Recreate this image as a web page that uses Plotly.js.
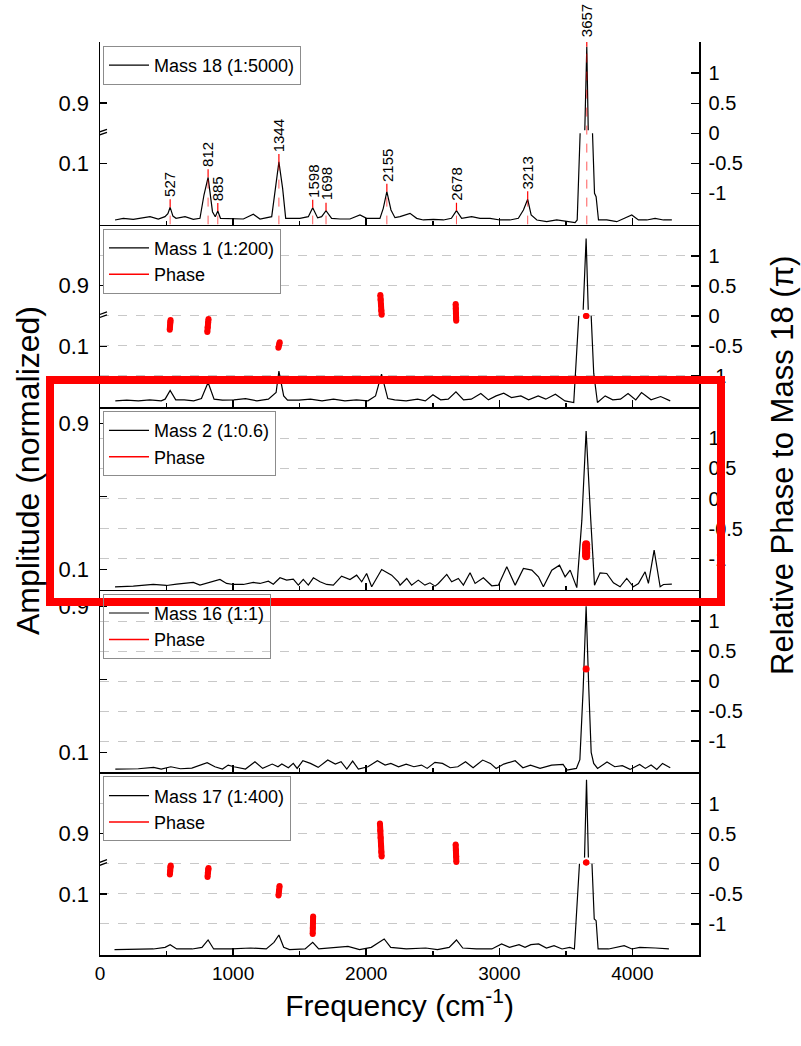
<!DOCTYPE html>
<html><head><meta charset="utf-8">
<script src="https://cdn.plot.ly/plotly-3.0.1.min.js"></script>
<style>html,body{margin:0;padding:0;background:#fff}#chart{width:801px;height:1046px}</style>
</head><body><div id="chart"></div>
<script>
// ---------------- data ----------------
// Panel 1: Mass 18 (1:5000) normalized amplitude
const freq18 = [113,175,250,313,376,438,488,510,527,548,571,639,701,751,781,812,845,866,885,905,1002,1077,1152,1202,1290,1320,1344,1372,1395,1502,1565,1598,1635,1665,1698,1740,1803,1878,1953,2003,2103,2128,2155,2186,2216,2254,2329,2379,2429,2505,2580,2640,2678,2717,2792,2855,2930,3005,3080,3143,3181,3213,3239,3282,3356,3431,3506,3569,3585,3607,3624,3642,3657,3668,3684,3700,3715,3727,3745,3807,3882,3995,4045,4108,4170,4233,4296];
const amp18 = [0.0076,0.0103,0.0087,0.0114,0.013,0.0092,0.013,0.018,0.0284,0.014,0.0103,0.013,0.0087,0.0103,0.0486,0.0777,0.0212,0.013,0.0223,0.0103,0.0092,0.0092,0.0169,0.0092,0.013,0.065,0.103,0.0596,0.0103,0.0103,0.013,0.0278,0.011,0.013,0.0229,0.0103,0.0092,0.0092,0.0158,0.0103,0.0103,0.0267,0.0541,0.024,0.0114,0.013,0.0185,0.0103,0.0076,0.0087,0.0076,0.0103,0.0229,0.0103,0.013,0.0103,0.0103,0.0076,0.0076,0.0103,0.024,0.0415,0.0158,0.0076,0.0048,0.0076,0.0048,0.0032,0.0076,0.15,0.5,0.855,0.992,0.855,0.5,0.15,0.0514,0.0459,0.0076,0.0076,0.0048,0.0158,0.0076,0.0076,0.0103,0.0076,0.0076];
const peakLabels = ['527','812','885','1344','1598','1698','2155','2678','3213','3657'];
const peakFreqs = [527,812,885,1344,1598,1698,2155,2678,3213,3657];

// Panel 2: Mass 1 (1:200)
const freq1 = [115,201,288,374,460,489,527,569,633,704,762,812,857,920,1006,1093,1179,1265,1323,1344,1380,1409,1495,1581,1668,1754,1840,1926,2013,2070,2115,2162,2214,2300,2386,2444,2501,2559,2616,2674,2731,2789,2861,2918,2976,3033,3091,3162,3220,3292,3349,3421,3493,3559,3597,3615,3630,3652,3668,3680,3690,3709,3737,3795,3852,3910,3967,4025,4068,4140,4212,4284];
const amp1 = [0.0104,0.0115,0.0104,0.0121,0.0104,0.0132,0.0274,0.0121,0.0121,0.0104,0.0142,0.0406,0.0132,0.0115,0.0121,0.0142,0.0104,0.0132,0.0241,0.0592,0.0186,0.0115,0.0115,0.0132,0.0104,0.0132,0.0104,0.0121,0.0104,0.0186,0.0543,0.0142,0.0121,0.0104,0.0132,0.0104,0.0203,0.0121,0.0132,0.0252,0.0121,0.0132,0.0225,0.0121,0.0186,0.023,0.0159,0.0186,0.0121,0.0186,0.0132,0.0214,0.0104,0.0077,0.15,0.5,0.86,0.977,0.86,0.5,0.15,0.0559,0.0077,0.0186,0.0121,0.0132,0.0225,0.0121,0.0241,0.0121,0.0175,0.0104];
const phaseFreq1 = [524,526,528,530,null,806,809,812,815,null,1340,1346,1350,null,2106,2108,2111,2113,2116,null,2672,2673,2674,2675,2676,null,3650,3655];
const phase1 = [-0.23,-0.17,-0.11,-0.07,null,-0.27,-0.19,-0.11,-0.05,null,-0.53,-0.48,-0.44,null,0.35,0.27,0.18,0.09,0.02,null,0.20,0.12,0.04,-0.03,-0.08,null,0,0];

// Panel 3: Mass 2 (1:0.6)
const freq2 = [113,250,400,500,576,701,751,851,901,951,1001,1077,1152,1202,1265,1302,1352,1402,1452,1490,1527,1565,1603,1653,1703,1753,1815,1878,1928,1966,2003,2041,2116,2191,2241,2254,2304,2341,2391,2441,2479,2517,2542,2605,2642,2692,2730,2780,2818,2880,2943,2993,3056,3119,3181,3244,3294,3331,3394,3452,3494,3532,3582,3620,3652,3687,3715,3757,3807,3857,3907,3957,4007,4045,4095,4120,4163,4208,4233,4296];
const amp2 = [0.0064,0.0101,0.0192,0.0137,0.021,0.0302,0.0156,0.0338,0.0466,0.0247,0.0192,0.0192,0.0302,0.0247,0.0375,0.021,0.0557,0.0429,0.0484,0.0156,0.0466,0.0156,0.0557,0.0338,0.0192,0.0156,0.0648,0.0466,0.0703,0.0338,0.0794,0.0064,0.1013,0.0703,0.0338,0.0156,0.052,0.0156,0.0429,0.0156,0.0283,0.0101,0.0247,0.074,0.0338,0.052,0.0156,0.0831,0.0247,0.0557,0.0119,0.0156,0.1159,0.0156,0.1068,0.0977,0.0612,0.0064,0.0977,0.125,0.0612,0.0977,0.002,0.3714,0.86,0.3714,0.0156,0.0831,0.0794,0.0283,0.0064,0.052,0.0064,0.0247,0.0886,0.0247,0.2072,0.0064,0.0192,0.021];
const phaseFreq2 = [3652,3652,3652,3652];
const phase2 = [-0.76,-0.83,-0.90,-0.96];

// Panel 4: Mass 16 (1:1)
const freq16 = [115,288,403,460,532,604,690,805,863,920,963,1006,1093,1164,1222,1294,1337,1366,1415,1452,1481,1524,1581,1639,1711,1768,1811,1854,1898,1941,2013,2084,2142,2185,2243,2300,2358,2415,2458,2516,2573,2631,2688,2746,2803,2875,2933,2976,3033,3119,3177,3234,3306,3393,3479,3508,3579,3605,3630,3652,3672,3690,3709,3738,3809,3867,3924,3982,4054,4097,4140,4183,4226,4284];
const amp16 = [0.0083,0.0101,0.0174,0.0083,0.021,0.0101,0.0137,0.0429,0.021,0.0083,0.0302,0.021,0.0083,0.0484,0.0119,0.0356,0.021,0.0356,0.0156,0.0393,0.0119,0.0539,0.0393,0.0174,0.0575,0.0356,0.0484,0.0083,0.052,0.0083,0.021,0.0539,0.0302,0.0393,0.021,0.0356,0.021,0.0302,0.0119,0.0448,0.0393,0.0156,0.021,0.0484,0.0156,0.0575,0.0393,0.0119,0.0356,0.0539,0.0156,0.0302,0.0119,0.0302,0.0338,0.0028,0.0119,0.06,0.45,0.9,0.45,0.1,0.0393,0.0119,0.0466,0.021,0.0265,0.0064,0.0338,0.0119,0.0302,0.0064,0.0393,0.0156];
const phaseFreq16 = [3652];
const phase16 = [0.2];

// Panel 5: Mass 17 (1:400)
const freq17 = [109,256,401,489,527,576,693,766,812,854,986,1132,1249,1307,1344,1380,1424,1541,1598,1643,1746,1863,1950,2038,2097,2135,2184,2301,2447,2535,2623,2678,2725,2827,2944,3017,3076,3148,3193,3237,3295,3354,3411,3471,3529,3564,3602,3622,3640,3655,3669,3683,3696,3713,3727,3742,3821,3938,3996,4055,4172,4274];
const amp17 = [0.0088,0.0088,0.0099,0.0126,0.017,0.0099,0.0099,0.0126,0.0247,0.0099,0.0099,0.0115,0.0099,0.0208,0.0329,0.0126,0.0088,0.0099,0.0208,0.0099,0.0115,0.0142,0.0088,0.0126,0.0208,0.0263,0.0126,0.0099,0.0115,0.0088,0.0126,0.0247,0.0115,0.0099,0.0099,0.0181,0.0126,0.017,0.0126,0.017,0.0181,0.0115,0.0153,0.0099,0.0126,0.0099,0.15,0.5,0.86,0.988,0.86,0.5,0.15,0.0592,0.0564,0.0099,0.0099,0.0153,0.0099,0.0126,0.0115,0.0099];
const phaseFreq17 = [525,527,529,531,null,808,810,813,815,null,1341,1345,1349,null,1598,1599,1600,1601,null,2103,2106,2108,2111,2113,2116,null,2672,2674,2676,2677,null,3650,3655];
const phase17 = [-0.18,-0.12,-0.06,-0.03,null,-0.22,-0.15,-0.10,-0.07,null,-0.53,-0.45,-0.37,null,-1.17,-1.07,-0.97,-0.88,null,0.67,0.55,0.43,0.31,0.20,0.12,null,0.32,0.22,0.12,0.03,null,0.02,0.02];

const legendNames = ['Mass 18 (1:5000)','Mass 1 (1:200)','Mass 2 (1:0.6)','Mass 16 (1:1)','Mass 17 (1:400)'];
const phaseTicks = [-1,-0.5,0,0.5,1];
const phaseTickText = ['-1','-0.5','0','0.5','1'];

// ---------------- helpers ----------------
const LO = 0.15, HI = 0.85;           // scale break of the broken amplitude axes
function brk(a){ if(a===null) return null; if(a<=LO) return a; if(a>=HI) return a-(HI-LO); return null; }
const FONT = 'Liberation Sans, Arial, sans-serif';

const panels = [
  {f:freq18,a:amp18,broken:true,pf:null,pp:null,bw:6},
  {f:freq1,a:amp1,broken:true,pf:phaseFreq1,pp:phase1,bw:6},
  {f:freq2,a:amp2,broken:false,pf:phaseFreq2,pp:phase2,bw:8},
  {f:freq16,a:amp16,broken:false,pf:phaseFreq16,pp:phase16,bw:7},
  {f:freq17,a:amp17,broken:true,pf:phaseFreq17,pp:phase17,bw:6}
];

const data = [];
const layout = {
  width:801, height:1046,
  margin:{l:100,r:102,t:42,b:91},
  paper_bgcolor:'#fff', plot_bgcolor:'#fff',
  font:{family:FONT,color:'#000'},
  showlegend:true,
  annotations:[], shapes:[]
};

panels.forEach((p,k)=>{
  const i = k+1;
  const xid = i===1?'x':'x'+i;
  const yA = 2*i-1, yP = 2*i;
  const yAid = yA===1?'y':'y'+yA, yPid = 'y'+yP;
  const xkey = i===1?'xaxis':'xaxis'+i;
  const yAkey = yA===1?'yaxis':'yaxis'+yA, yPkey = 'yaxis'+yP;
  const lkey = i===1?'legend':'legend'+i;
  const dom = [1-0.2*i, 1-0.2*(i-1)];

  layout[xkey] = {
    domain:[0,1], anchor:yAid, range:[0,4500], tick0:0, dtick:1000,
    showline:true, linecolor:'#000', linewidth:1.5, mirror:false,
    ticks:'inside', ticklen:7, tickwidth:1.5, tickcolor:'#000',
    minor:{dtick:500, ticks:'inside', ticklen:4, tickwidth:1.5, tickcolor:'#000'},
    showgrid:false, zeroline:false, showticklabels:i===5,
    tickfont:{size:19,family:FONT,color:'#000'}, ticklabelstandoff:1
  };
  if(i===5){ layout[xkey].title = {text:'Frequency (cm<sup>-1</sup>)', font:{size:30,family:FONT,color:'#000'}, standoff:0}; }

  layout[yAkey] = {
    domain:dom, anchor:xid,
    range: p.broken ? [0,0.30] : [-0.01,0.99],
    tickmode:'array',
    tickvals: p.broken ? [0.1, 0.9-(HI-LO)] : [0.1,0.9],
    ticktext: ['0.1','0.9'],
    showline:true, linecolor:'#000', linewidth:1.5,
    ticks:'inside', ticklen:7, tickwidth:1.5, tickcolor:'#000',
    showgrid:false, zeroline:false,
    tickfont:{size:22,family:FONT,color:'#000'}, ticklabelstandoff:5
  };
  if(!p.broken){
    layout[yAkey].minor = {tickmode:'array', tickvals:[0.5], ticks:'inside', ticklen:7, tickwidth:1.5, tickcolor:'#000', showgrid:false};
  }
  layout[yPkey] = {
    domain:dom, anchor:xid, overlaying:yAid, side:'right',
    range:[-1.52,1.52], tickmode:'array', tickvals:phaseTicks, ticktext:phaseTickText,
    showline:true, linecolor:'#000', linewidth:1.5,
    ticks:'inside', ticklen:8, tickwidth:1.5, tickcolor:'#000',
    showgrid:i>1, gridcolor:'#c8c8c8', griddash:'dash', gridwidth:1,
    zeroline:false, tickfont:{size:20,family:FONT,color:'#000'}, ticklabelstandoff:4
  };
  layout[lkey] = {
    x:0.005, y:dom[1]-4/913, xanchor:'left', yanchor:'top', xref:'paper', yref:'paper',
    bgcolor: i===4 ? 'rgba(255,255,255,0)' : '#fff',
    bordercolor:'#8c8c8c', borderwidth:1, font:{size:18,family:FONT,color:'#000'},
    itemwidth:40, tracegroupgap:0
  };

  data.push({
    type:'scatter', mode:'lines', x:p.f, y: p.broken ? p.a.map(brk) : p.a,
    xaxis:xid, yaxis:yAid, name:legendNames[k], legend:lkey,
    line:{color:'#000',width:1.2}, connectgaps:false, hoverinfo:'skip'
  });
  if(p.pf){
    data.push({
      type:'scatter', mode:'lines', x:p.pf, y:p.pp, xaxis:xid, yaxis:yPid,
      name:'Phase', legend:lkey, line:{color:'#ff0000',width:1.5}, connectgaps:false, hoverinfo:'skip'
    });
    data.push({
      type:'scatter', mode:'lines+markers', x:p.pf, y:p.pp, xaxis:xid, yaxis:yPid,
      showlegend:false, connectgaps:false,
      line:{color:'#ff0000',width:p.bw}, marker:{color:'#ff0000',size:p.bw}, hoverinfo:'skip'
    });
  } else {
    // empty trace so that the right-hand phase axis of this panel is drawn
    data.push({type:'scatter', mode:'lines', x:[], y:[], xaxis:xid, yaxis:yPid, showlegend:false, hoverinfo:'skip'});
  }

  // scale-break marks on the left spine
  if(p.broken){
    layout.shapes.push({type:'path', xref:xid, yref:yAid, xsizemode:'pixel', ysizemode:'pixel',
      xanchor:0, yanchor:LO, path:'M-7,-4 L7,1 L7,4 L-7,-1 Z', fillcolor:'#fff', line:{width:0}, layer:'above'});
    layout.shapes.push({type:'line', xref:xid, yref:yAid, xsizemode:'pixel', ysizemode:'pixel',
      xanchor:0, yanchor:LO, x0:-7, x1:7, y0:-4, y1:1, line:{color:'#000',width:1.3}});
    layout.shapes.push({type:'line', xref:xid, yref:yAid, xsizemode:'pixel', ysizemode:'pixel',
      xanchor:0, yanchor:LO, x0:-7, x1:7, y0:-1, y1:4, line:{color:'#000',width:1.3}});
  }
});

// peak labels with drop lines in panel 1
peakFreqs.forEach((pf,j)=>{
  const a = amp18[freq18.indexOf(pf)];
  const d = brk(a);
  layout.annotations.push({xref:'x', yref:'y', x:pf, y:d, text:peakLabels[j], textangle:-90,
    showarrow:false, xanchor:'center', yanchor:'bottom', yshift:8, font:{size:15,family:FONT,color:'#000'}});
  layout.shapes.push({type:'line', xref:'x', yref:'y', ysizemode:'pixel', yanchor:d,
    x0:pf, x1:pf, y0:0, y1:8, line:{color:'#ff0000',width:1.2}});
  layout.shapes.push({type:'line', xref:'x', yref:'y', x0:pf, x1:pf, y0:0, y1:d,
    line:{color:'rgba(255,0,0,0.65)',width:1,dash:'dash'}});
});

// y titles spanning all panels
layout.annotations.push({xref:'paper', yref:'paper', x:(28-100)/599, y:1-(471-42)/913,
  text:'Amplitude (normalized)', textangle:-90, showarrow:false, xanchor:'center', yanchor:'middle',
  font:{size:32,family:FONT,color:'#000'}});
layout.annotations.push({xref:'paper', yref:'paper', x:(782-100)/599, y:1-(465-42)/913,
  text:'Relative Phase to Mass 18 (π)', textangle:-90, showarrow:false, xanchor:'center', yanchor:'middle',
  font:{size:31,family:FONT,color:'#000'}});

// red highlight frame around the Mass 2 panel
layout.shapes.push({type:'rect', xref:'paper', yref:'paper',
  x0:(50-100)/599, x1:(721-100)/599, y0:1-(602-42)/913, y1:1-(380-42)/913,
  line:{color:'#ff0000',width:8}, fillcolor:'rgba(0,0,0,0)', layer:'above'});

Plotly.newPlot('chart', data, layout, {staticPlot:true, displayModeBar:false});
</script>
</body></html>
